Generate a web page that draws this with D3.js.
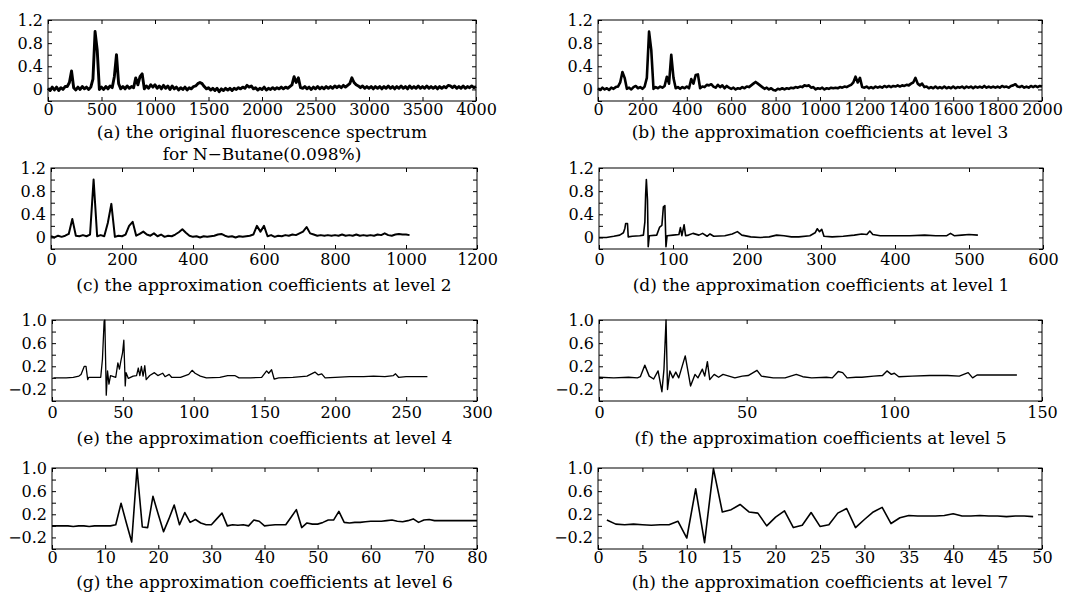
<!DOCTYPE html>
<html><head><meta charset="utf-8">
<script src="https://cdn.jsdelivr.net/npm/d3@7/dist/d3.min.js"></script>
<style>
body{margin:0;background:#fff}
text{font-family:"DejaVu Serif",serif;fill:#000}
</style>
</head><body>
<svg id="chart" width="1084" height="596"></svg>
<script>
// ---------- data ----------
// (a) original spectrum, sampled every 20 channels (0..4000)
const aStep = 20;
const aY = [
 0.02,-0.02,0.04,-0.01,0.04,-0.02,0.03,0.00,0.05,0.05,0.12,0.32,0.03,-0.01,0.04,0.00,0.05,0.01,0.04,0.00,
 0.04,0.18,1.00,0.68,0.00,0.04,0.00,0.05,0.01,0.06,0.03,0.22,0.60,0.10,0.01,0.05,0.01,0.06,0.02,0.05,
 0.03,0.20,0.08,0.22,0.27,0.01,0.06,0.02,0.08,0.04,0.08,0.02,0.06,0.01,0.07,0.02,0.06,0.00,0.06,0.01,
 0.04,-0.01,0.03,0.00,0.04,-0.01,0.03,0.01,0.05,0.06,0.10,0.12,0.10,0.05,0.01,0.03,-0.01,0.02,-0.02,0.02,
 -0.04,0.01,-0.02,0.02,-0.01,0.02,-0.02,0.02,0.00,0.03,0.01,0.04,0.02,0.07,0.04,0.06,0.01,0.03,-0.01,0.02,
 0.00,0.04,-0.01,0.02,0.00,0.03,0.00,0.03,0.01,0.04,0.01,0.04,0.02,0.05,0.08,0.22,0.12,0.20,0.03,0.02,
 0.05,0.01,0.04,0.00,0.04,0.01,0.05,0.01,0.04,0.01,0.05,0.02,0.05,0.02,0.06,0.03,0.06,0.03,0.07,0.04,
 0.07,0.10,0.20,0.12,0.08,0.06,0.03,0.06,0.02,0.05,0.02,0.05,0.01,0.05,0.02,0.05,0.01,0.05,0.02,0.06,
 0.02,0.05,0.01,0.05,0.02,0.06,0.02,0.05,0.01,0.06,0.02,0.05,0.02,0.06,0.02,0.05,0.02,0.06,0.02,0.05,
 0.02,0.05,0.01,0.05,0.02,0.05,0.03,0.07,0.06,0.03,0.06,0.02,0.05,0.02,0.06,0.02,0.05,0.03,0.06,0.03,
 0.05
];
// (b) level-3 approximation, every 10 (0..2000)
const bStep = 10;
const bY = [
 0.02,-0.01,0.03,0.00,0.02,-0.01,0.03,0.01,0.04,0.05,0.12,0.30,0.20,0.01,0.03,0.00,0.04,0.06,0.02,0.04,
 0.01,0.05,0.20,1.00,0.68,0.01,0.04,0.02,0.05,0.03,0.06,0.22,0.10,0.60,0.20,0.02,0.04,0.01,0.04,0.02,
 0.05,0.02,0.18,0.10,0.25,0.26,0.02,0.05,0.04,0.08,0.07,0.09,0.05,0.03,0.08,0.04,0.07,0.02,0.06,0.03,
 0.01,0.03,0.00,0.02,0.01,0.04,0.02,0.05,0.04,0.07,0.10,0.13,0.10,0.07,0.04,0.01,0.03,0.00,0.02,-0.01,
 -0.02,0.01,0.00,0.02,0.00,0.02,0.01,0.03,0.02,0.04,0.03,0.05,0.04,0.07,0.06,0.07,0.03,0.04,0.00,0.02,
 0.01,0.03,0.00,0.02,0.01,0.03,0.02,0.03,0.02,0.04,0.03,0.05,0.04,0.06,0.08,0.12,0.22,0.12,0.20,0.04,
 0.03,0.05,0.02,0.04,0.02,0.05,0.03,0.05,0.03,0.06,0.04,0.06,0.04,0.06,0.05,0.07,0.05,0.07,0.06,0.08,
 0.07,0.10,0.12,0.20,0.10,0.07,0.10,0.04,0.05,0.02,0.04,0.02,0.05,0.02,0.04,0.02,0.05,0.02,0.04,0.02,
 0.05,0.02,0.04,0.03,0.05,0.02,0.05,0.03,0.05,0.02,0.05,0.03,0.05,0.03,0.06,0.03,0.05,0.03,0.05,0.03,
 0.05,0.03,0.06,0.04,0.05,0.03,0.06,0.07,0.09,0.05,0.04,0.06,0.03,0.05,0.03,0.06,0.04,0.06,0.04,0.06,
 0.05
];
// (c) level-2 approximation, every 10 (0..1010)
const cStep = 10;
const cY = [
 0.02,0.00,0.03,0.01,0.03,0.06,0.32,0.03,0.02,0.04,
 0.02,0.05,1.00,0.02,0.04,0.02,0.25,0.58,0.01,0.03,
 0.02,0.05,0.20,0.27,0.03,0.06,0.10,0.05,0.03,0.07,
 0.02,0.05,0.01,0.03,0.02,0.05,0.09,0.14,0.08,0.03,
 0.01,0.02,0.00,0.02,0.01,0.02,0.03,0.05,0.06,0.03,
 0.01,0.02,0.00,0.02,0.01,0.02,0.03,0.05,0.20,0.10,
 0.20,0.02,0.04,0.01,0.03,0.02,0.04,0.03,0.05,0.04,
 0.07,0.10,0.18,0.07,0.05,0.03,0.04,0.03,0.04,0.03,
 0.04,0.03,0.05,0.03,0.04,0.03,0.05,0.03,0.04,0.03,
 0.04,0.03,0.05,0.04,0.07,0.04,0.03,0.05,0.06,0.05,
 0.05,0.04
];
// (d) level-1 approximation vertices
const dX = [0,10,20,28,33,35,36,38.5,39.5,45,55,60,62,63,64,65.5,66.5,68,78,82,85,87,89,90.5,92,100,108,110,112,115,117,121,127,135,140,146,150,155,170,180,187,193,205,218,230,240,250,260,270,285,292,295,298,301,304,315,330,345,355,362,366,370,380,400,420,440,455,470,475,480,490,500,512];
const dY = [0,0,0.02,0.04,0.08,0.16,0.24,0.24,0.01,0.02,0.03,0.04,0.27,0.73,1.0,0.65,-0.16,0.03,0.04,0.18,0.21,0.53,0.55,-0.16,0.03,0.04,0.05,0.17,0.03,0.22,0.03,0.04,0.07,0.04,0.07,0.02,0.06,0.02,0.03,0.06,0.10,0.04,0.01,0.0,0.01,0.04,0.03,0.01,0.01,0.03,0.08,0.15,0.10,0.14,0.02,0.01,0.02,0.04,0.06,0.05,0.11,0.05,0.03,0.03,0.03,0.04,0.03,0.03,0.07,0.03,0.04,0.05,0.04];
// (e) level-4 approximation vertices
const eX = [1,10,15,19,20.5,22.8,24,25.2,26,30,34.4,35.6,36.8,37.3,37.8,38.3,39.2,40.2,41.3,45,46.5,47.6,48.6,49.8,50.7,51.2,51.7,52.3,53.9,57.3,59.7,60.9,62,63.1,64.3,65.5,66.5,69,72.3,74.7,78.1,79.8,82.7,84.4,90.7,96.5,98.9,101,104.7,109,118.5,124,129,132,140,148,151.5,153,155,156.8,160,170,180,185.6,188,190.4,192.8,200,210,220,227,235,241,242.5,244.6,250,258,265];
const eY = [0,0,0.01,0.03,0.06,0.2,0.2,-0.03,0.01,0.01,0.01,0.32,0.98,1.0,0.35,-0.3,0.12,-0.11,0.04,0.01,0.26,0.15,0.29,0.43,0.65,0.26,-0.14,0.09,-0.01,0.03,0.04,0.17,0.04,0.2,0.03,0.21,-0.03,0.04,0.09,0.04,0.08,0.02,0.06,0.01,0.01,0.06,0.13,0.08,0.03,0.0,0.01,0.04,0.04,0.0,0.0,0.01,0.12,0.08,0.14,-0.02,0.0,0.01,0.03,0.1,0.05,0.07,0.0,0.01,0.02,0.02,0.03,0.02,0.04,0.07,0.01,0.02,0.02,0.02];
// (f) level-5 approximation vertices
const fX = [0,5,10,13,14,15.5,17,18.5,20,21.3,22,22.7,23.2,24,25,26,27,29.2,31,32.5,33.5,35,35.8,36.7,37.5,39,40.5,42,44,46,48.5,50.5,53.5,55,59,63,66.8,69,72,77,79,81,82.5,84,87,89,93,96,97.5,99,100,101.5,106,112,118,122,125,126.5,128,133,138,141.5];
const fY = [0.01,0,0.01,0,0.02,0.22,0.03,-0.02,0.12,-0.24,0.15,1.0,-0.2,0.12,0,0.1,0,0.38,-0.14,0.06,0,0.15,0.03,0.28,-0.03,0.06,0.01,0.06,0.03,0,0.03,0.04,0.13,0.03,0,0,0.06,0.02,0,0.01,0,0.11,0.09,0,0.01,0.01,0.03,0.04,0.12,0.06,0.08,0.02,0.03,0.04,0.04,0.03,0.09,0,0.05,0.05,0.05,0.05];
// (g) level-6 approximation, index 0..80
const gY = [0,0,0,0,-0.01,0,0,-0.01,0,0,0,0,0.02,0.39,0.05,-0.28,0.99,-0.02,-0.03,0.51,0.2,-0.1,0.12,0.36,0.02,0.23,0.06,0.11,0.05,0.02,0.02,0.12,0.22,0,0.02,0.01,0.02,0,0.1,0.08,0,0.01,0.02,0.02,0.02,0.15,0.28,-0.03,0.05,0.03,0.03,0.06,0.1,0.1,0.25,0.06,0.05,0.06,0.06,0.07,0.08,0.08,0.08,0.09,0.1,0.08,0.07,0.09,0.12,0.06,0.1,0.11,0.09,0.09,0.09,0.09,0.09,0.09,0.09,0.09,0.09];
// (h) level-7 approximation, index 1..49
const hY = [0.10,0.03,0.02,0.03,0.02,0.01,0.02,0.02,0.08,-0.21,0.64,-0.29,0.99,0.24,0.28,0.37,0.24,0.22,0.00,0.15,0.26,-0.03,0.01,0.23,-0.01,0.02,0.22,0.30,-0.03,0.11,0.24,0.32,0.04,0.14,0.18,0.17,0.17,0.17,0.18,0.21,0.17,0.17,0.18,0.17,0.17,0.16,0.17,0.17,0.16];

const xTickA = d3.range(0, 4001, 500);
const xTickB = d3.range(0, 2001, 200);
const xTickC = d3.range(0, 1201, 200);
const xTickD = d3.range(0, 601, 100);
const xTickE = d3.range(0, 301, 50);
const xTickF = [0, 50, 100, 150];
const xTickG = d3.range(0, 81, 10);
const xTickH = d3.range(0, 51, 5);
const yTickTop = [-0.2, 0, 0.2, 0.4, 0.6, 0.8, 1.0, 1.2];
const yLabTop = [0, 0.4, 0.8, 1.2];
const yTickBot = [-0.4, -0.2, 0, 0.2, 0.4, 0.6, 0.8, 1.0];
const yLabBot = [-0.2, 0.2, 0.6, 1.0];

const captions = {
  a: ["(a) the original fluorescence spectrum", "for N\u2212Butane(0.098%)"],
  b: ["(b) the approximation coefficients at level 3"],
  c: ["(c) the approximation coefficients at level 2"],
  d: ["(d) the approximation coefficients at level 1"],
  e: ["(e) the approximation coefficients at level 4"],
  f: ["(f) the approximation coefficients at level 5"],
  g: ["(g) the approximation coefficients at level 6"],
  h: ["(h) the approximation coefficients at level 7"]
};

// ---------- build series ----------
const pts = (ys, step, start) => ys.map((v, i) => [start + i * step, v]);
const zipXY = (xs, ys) => xs.map((x, i) => [x, ys[i]]);

const panels = [
  {k:"a", data:pts(aY,aStep,0), xmax:4000, xt:xTickA, yd:[-0.2,1.2], yt:yTickTop, yl:yLabTop, box:[48,20,476,101], sw:2.9, pad:3, cap:138},
  {k:"b", data:pts(bY,bStep,0), xmax:2000, xt:xTickB, yd:[-0.2,1.2], yt:yTickTop, yl:yLabTop, box:[598,20,1042,101], sw:2.6, pad:3, cap:138},
  {k:"c", data:pts(cY,cStep,0), xmax:1200, xt:xTickC, yd:[-0.2,1.2], yt:yTickTop, yl:yLabTop, box:[51,168,477,249], sw:2.0, pad:5, cap:291},
  {k:"d", data:zipXY(dX,dY), xmax:600, xt:xTickD, yd:[-0.2,1.2], yt:yTickTop, yl:yLabTop, box:[599,168,1043,249], sw:1.6, pad:5, cap:291},
  {k:"e", data:zipXY(eX,eY), xmax:300, xt:xTickE, yd:[-0.4,1.0], yt:yTickBot, yl:yLabBot, box:[52,320,477,401], sw:1.3, pad:6, cap:444},
  {k:"f", data:zipXY(fX,fY), xmax:150, xt:xTickF, yd:[-0.4,1.0], yt:yTickBot, yl:yLabBot, box:[599,320,1042,401], sw:1.4, pad:6, cap:444},
  {k:"g", data:pts(gY,1,0), xmax:80, xt:xTickG, yd:[-0.4,1.0], yt:yTickBot, yl:yLabBot, box:[52,468,477,549], sw:1.6, pad:3, cap:588},
  {k:"h", data:pts(hY,1,1), xmax:50, xt:xTickH, yd:[-0.4,1.0], yt:yTickBot, yl:yLabBot, box:[598,468,1042,549], sw:1.6, pad:3, cap:588}
];

const svg = d3.select("#chart");
svg.append("rect").attr("width",1084).attr("height",596).attr("fill","#fff");

const fmt = v => Math.abs(v) < 1e-9 ? "0" : (v < 0 ? "\u2212" : "") + Math.abs(v).toFixed(1);
const FS = 16, CFS = 17;

panels.forEach(p => {
  const [x0,y0,x1,y1] = p.box;
  const x = d3.scaleLinear().domain([0,p.xmax]).range([x0,x1]);
  const y = d3.scaleLinear().domain(p.yd).range([y1,y0]);
  const g = svg.append("g");

  g.append("path").datum(p.data)
    .attr("fill","none").attr("stroke","#000").attr("stroke-width",p.sw)
    .attr("stroke-linejoin","round")
    .attr("d", d3.line().x(d=>x(d[0])).y(d=>y(d[1])));

  const bottom = g.append("g").attr("transform",`translate(0,${y1})`)
    .call(d3.axisBottom(x).tickValues(p.xt).tickSizeInner(-4).tickSizeOuter(0).tickPadding(p.pad).tickFormat(d3.format("d")));
  const top = g.append("g").attr("transform",`translate(0,${y0})`)
    .call(d3.axisTop(x).tickValues(p.xt).tickSizeInner(-4).tickSizeOuter(0).tickFormat(""));
  const left = g.append("g").attr("transform",`translate(${x0},0)`)
    .call(d3.axisLeft(y).tickValues(p.yt).tickSizeInner(-4).tickSizeOuter(0).tickPadding(5)
      .tickFormat(v => p.yl.some(l => Math.abs(l-v)<1e-9) ? fmt(v) : ""));
  const right = g.append("g").attr("transform",`translate(${x1},0)`)
    .call(d3.axisRight(y).tickValues(p.yt).tickSizeInner(-4).tickSizeOuter(0).tickFormat(""));
  [bottom,top,left,right].forEach(a => {
    a.select(".domain").remove();
    a.selectAll("line").attr("stroke","#000").attr("stroke-width",1);
    a.selectAll("text").attr("font-family","DejaVu Serif").attr("font-size",FS).attr("fill","#000");
  });
  [top,right].forEach(a => a.selectAll("text").remove());
  left.selectAll("text").filter(function(){ return this.textContent === ""; }).remove();

  g.append("rect").attr("x",x0).attr("y",y0).attr("width",x1-x0).attr("height",y1-y0)
    .attr("fill","none").attr("stroke","#000").attr("stroke-width",1);

  const cx = (x0+x1)/2;
  captions[p.k].forEach((t,i) => {
    g.append("text").attr("x",cx).attr("y",p.cap+i*22)
      .attr("text-anchor","middle").attr("font-size",CFS).text(t);
  });
});
</script>
</body></html>
